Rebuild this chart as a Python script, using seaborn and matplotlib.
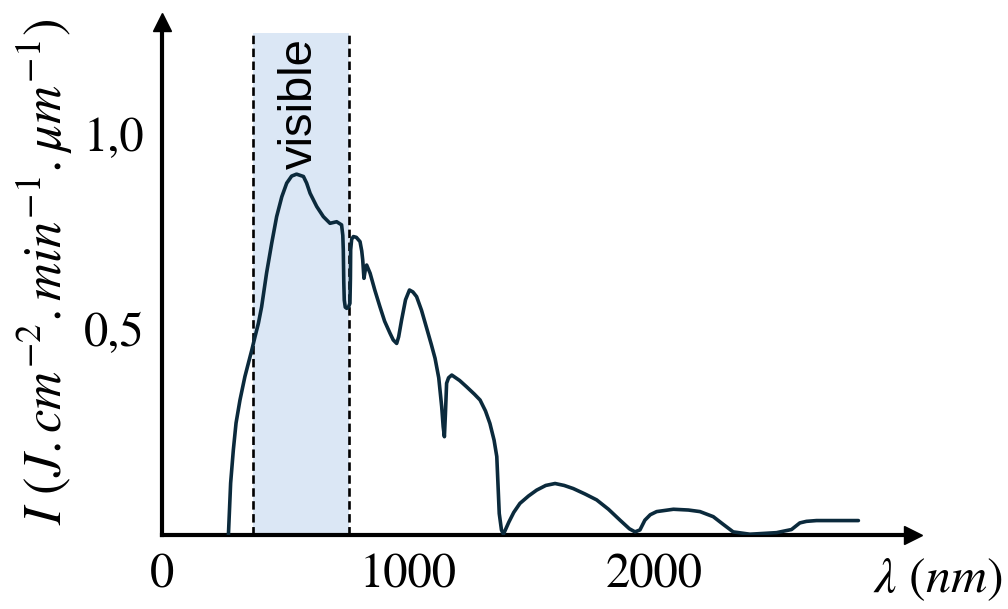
import numpy as np
import pandas as pd
import matplotlib
matplotlib.use("Agg")
import matplotlib.pyplot as plt
import seaborn as sns

# solar spectrum (nm, J.cm-2.min-1.um-1)
wavelength = [270, 279, 290, 301, 317, 337, 365, 378, 392, 405, 425, 446, 466, 487, 507,
              527, 547, 575, 588, 602, 629, 656, 683, 710, 730, 735, 737, 739, 741, 745,
              751, 758, 764, 766, 767, 771, 778, 790, 805, 812, 816, 821, 826, 832, 846,
              865, 886, 905, 927, 940, 954, 962, 974, 990, 1006, 1020, 1035, 1055, 1076,
              1095, 1110, 1125, 1137, 1143, 1148, 1152, 1157, 1165, 1178, 1210, 1238,
              1270, 1293, 1315, 1333, 1350, 1361, 1366, 1371, 1380, 1388, 1410, 1430,
              1455, 1490, 1523, 1560, 1598, 1635, 1672, 1720, 1767, 1815, 1862, 1900,
              1923, 1943, 1963, 1985, 2011, 2079, 2140, 2187, 2241, 2280, 2322, 2390,
              2498, 2559, 2593, 2620, 2661, 2831]
intensity = [-0.028, 0.105, 0.19, 0.259, 0.318, 0.378, 0.446, 0.480, 0.515, 0.557, 0.643,
             0.720, 0.788, 0.839, 0.874, 0.892, 0.897, 0.891, 0.874, 0.848, 0.814, 0.788,
             0.771, 0.775, 0.767, 0.740, 0.703, 0.620, 0.574, 0.556, 0.553, 0.556, 0.566,
             0.630, 0.703, 0.730, 0.737, 0.735, 0.724, 0.700, 0.677, 0.630, 0.650, 0.664,
             0.643, 0.600, 0.557, 0.520, 0.489, 0.472, 0.463, 0.480, 0.523, 0.575, 0.600,
             0.595, 0.583, 0.548, 0.502, 0.460, 0.425, 0.375, 0.301, 0.250, 0.224, 0.280,
             0.361, 0.375, 0.382, 0.368, 0.352, 0.333, 0.318, 0.290, 0.258, 0.215, 0.173,
             0.100, 0.027, -0.015, -0.026, 0.005, 0.030, 0.053, 0.072, 0.087, 0.099,
             0.104, 0.099, 0.091, 0.077, 0.062, 0.038, 0.010, -0.012, -0.020, -0.015,
             0.010, 0.024, 0.032, 0.038, 0.036, 0.032, 0.019, 0.000, -0.020, -0.026,
             -0.022, -0.014, 0.003, 0.007, 0.009, 0.009]

visible_band = [370, 760]
x_ticks = [0, 1000, 2000]
x_tick_labels = ["0", "1000", "2000"]
y_ticks = [0.5, 1.0]
y_tick_labels = ["0,5", "1,0"]

df = pd.DataFrame({"wavelength": wavelength, "intensity": intensity})

sns.set_style("white")
plt.rcParams["mathtext.fontset"] = "stix"
plt.rcParams["font.family"] = ["STIXGeneral", "DejaVu Serif"]
plt.rcParams["text.color"] = "black"

fig = plt.figure(figsize=(10.08, 6.09), dpi=100)
ax = fig.add_axes([162 / 1008, (609 - 535) / 609, (913 - 162) / 1008, (535 - 22) / 609])

ymin, ymax = -0.028, 1.287
ax.set_xlim(0, 3053)
ax.set_ylim(ymin, ymax)

# visible region
band_top = 1.259
ax.fill_between(visible_band, ymin, band_top, color="#dbe7f5", lw=0, zorder=0)
ax.vlines(visible_band, ymin, band_top, colors="black", linestyles=(0, (3.2, 1.7)), lw=1.9, zorder=1)
ax.text(560, 1.245, "visible", rotation=90, ha="center", va="top", color="black",
        fontsize=34, family="Liberation Sans", zorder=2)

sns.lineplot(data=df, x="wavelength", y="intensity", ax=ax, color="#0b2a3c",
             lw=2.6, sort=False, zorder=3, solid_joinstyle="round", solid_capstyle="round")

# axes with arrows
sns.despine(ax=ax)
for side in ["left", "bottom"]:
    ax.spines[side].set_linewidth(3)
    ax.spines[side].set_color("black")
ax.plot(1, 0, ">", color="black", ms=13, transform=ax.transAxes, clip_on=False)
ax.plot(0, 1, "^", color="black", ms=13, transform=ax.transAxes, clip_on=False)

ax.set_xticks(x_ticks)
ax.set_xticklabels(x_tick_labels)
ax.set_yticks(y_ticks)
ax.set_yticklabels(y_tick_labels)
ax.tick_params(axis="both", direction="inout", length=15, width=2.5, labelsize=35, colors="black")
ax.tick_params(axis="x", pad=6)
ax.tick_params(axis="y", pad=5)
ax.set_xlabel("")
ax.set_ylabel("")

fig.text(0.995, 1 - 580 / 609, r"$\lambda\ (nm)$", ha="right", va="center",
         fontsize=36, color="black")
fig.text(45 / 1008, 1 - 272 / 609, r"$I\ (J.cm^{-2}.min^{-1}.\mu m^{-1})$",
         rotation=90, ha="center", va="center", fontsize=38, color="black")

fig.savefig("out.png", dpi=100)
